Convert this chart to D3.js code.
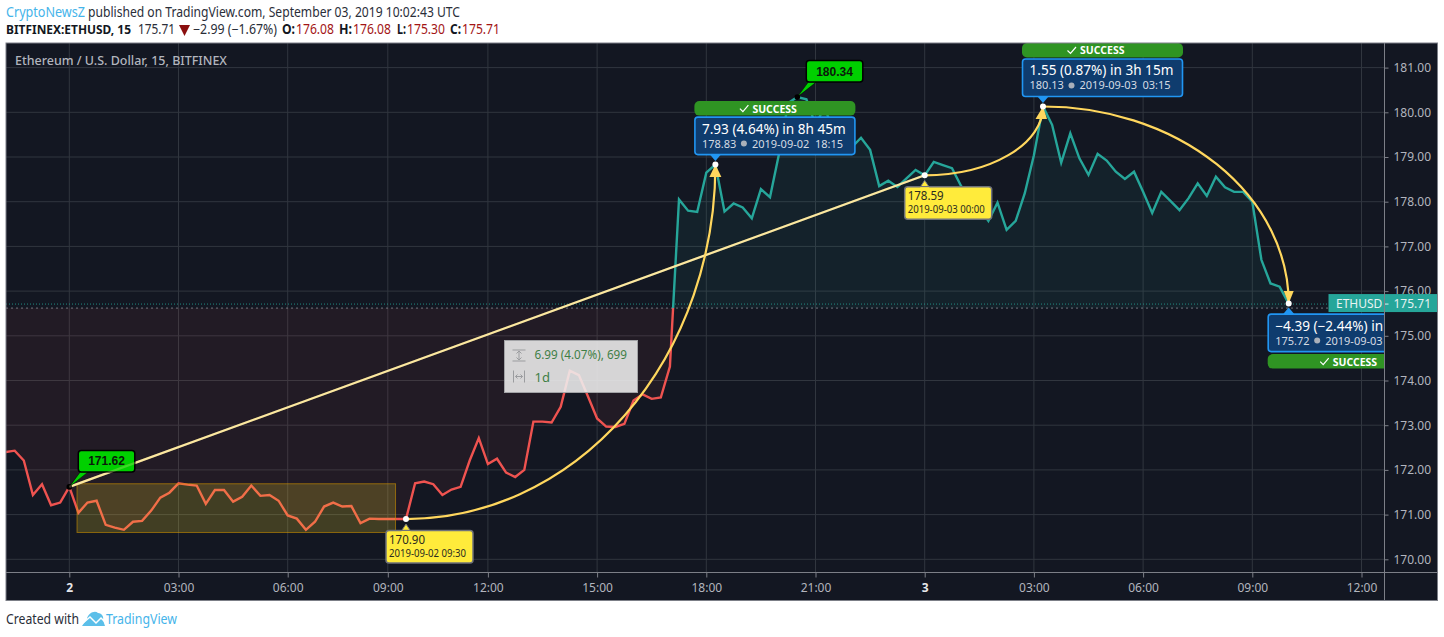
<!DOCTYPE html>
<html>
<head>
<meta charset="utf-8">
<script src="https://cdn.jsdelivr.net/npm/d3@7"></script>
<style>
html, body { margin: 0; padding: 0; background: #fff; overflow: hidden; }
svg { display: block; }
text { font-family: "Noto Sans", sans-serif; }
</style>
</head>
<body>
<script>
// 15 minute closes, first one is bar -7 (bar 0 = 2 Sep 00:00)
var firstBar = -7;
var prices = [
    172.40, 172.43, 172.21, 171.44, 171.68, 171.21, 171.27,
    171.62, 171.04, 171.27, 171.31, 170.77, 170.71, 170.66, 170.84, 170.86, 171.09, 171.38, 171.49,
    171.70, 171.67, 171.65, 171.24, 171.55, 171.55, 171.29, 171.40, 171.65, 171.42, 171.44, 171.31,
    170.98, 170.91, 170.66, 170.84, 171.18, 171.27, 171.18, 171.19, 170.81, 170.91, 170.90,
    170.90, 170.90, 170.90, 171.70, 171.74, 171.68, 171.44, 171.56, 171.62, 172.21, 172.71, 172.13,
    172.25, 171.94, 171.84, 172.00, 173.08, 173.08, 173.06, 173.41, 174.22, 174.12, 173.64, 173.15,
    172.97, 172.96, 173.03, 173.55, 173.69, 173.59, 173.62, 174.31, 178.05, 177.80, 177.77, 178.65,
    178.83, 177.78, 177.96, 177.87, 177.63, 178.28, 178.10, 179.08, 180.21, 180.34, 180.29, 179.72,
    180.12, 179.54, 179.16, 179.22, 179.43, 179.16, 178.35, 178.47, 178.33, 178.52, 178.71, 178.59,
    178.89, 178.82, 178.75, 178.35, 178.13, 177.86, 177.57, 177.98, 177.37, 177.57, 178.19, 179.04,
    180.13, 179.72, 178.87, 179.53, 178.97, 178.60, 179.07, 178.92, 178.67, 178.51, 178.67, 178.22,
    177.75, 178.22, 178.02, 177.81, 178.08, 178.41, 178.13, 178.56, 178.32, 178.22, 178.22, 178.00,
    176.70, 176.17, 176.10, 175.72
];
var tickBars = [0, 12, 24, 35, 46, 58, 70, 82, 94, 106, 118, 130, 142];
var tickLabels = ["2", "03:00", "06:00", "09:00", "12:00", "15:00", "18:00", "21:00", "3", "03:00", "06:00", "09:00", "12:00"];
var priceTicks = [170, 171, 172, 173, 174, 175, 176, 177, 178, 179, 180, 181];
var lastPrice = 175.71;
var baseLevel = 175.62;

// shaded box on the first consolidation
var boxBars = [0.85, 35.85];
var boxPrices = [171.69, 170.60];

// yellow trend line and arcs
var trendFrom = [0, 171.62];
var trendTo = [94, 178.59];
var arcFromBars = [37, 94, 107];
var arcFromPrices = [170.90, 178.59, 180.13];
var arcToBars = [71, 107, 134];
var arcToPrices = [178.83, 180.13, 175.72];
var arrowLeft = [6, 7.5, 5];
var arrowRight = [6, 4, 5];
var dotBars = [37, 71, 94, 107, 134];
var dotPrices = [170.90, 178.83, 178.59, 180.13, 175.72];

var greenBars = [0, 80];
var greenPrices = [171.62, 180.34];

var yellowBars = [37, 94];
var yellowPrices = [170.90, 178.59];
var yellowDates = ["2019-09-02 09:30", "2019-09-03 00:00"];

var forecastBars = [71, 107, 134];
var forecastPrices = [178.83, 180.13, 175.72];
var forecastMoves = ["7.93 (4.64%) in 8h 45m", "1.55 (0.87%) in 3h 15m", "\u22124.39 (\u22122.44%) in"];
var forecastPriceText = ["178.83", "180.13", "175.72"];
var forecastDates = ["2019-09-02", "2019-09-03", "2019-09-03"];
var forecastTimes = ["18:15", "03:15", ""];
var forecastBelow = [false, false, true];
var successShift = [-7, -7, 0];

var width = 1444, height = 637;
var pane = { left: 6, top: 43, right: 1384.5, bottom: 572.5, outerRight: 1437.5, outerBottom: 600.5 };

var colors = {
    bg: "#131722", grid: "#31363f", border: "#7c7f87", axisText: "#b2b5be",
    up: "#26a69a", down: "#ef5350", trend: "#fde9a0", arc: "#ffd75e", green: "#00d000",
    yellow: "#ffeb3b", blueFill: "#0f3c6e", blueLine: "#2196f3", success: "#2f9423"
};

var x = d3.scaleLinear().domain([0, 142]).range([69.3, 1361.5]);
var y = d3.scaleLinear().domain([170, 181]).range([559.3, 67.6]);

var svg = d3.select("body").append("svg").attr("width", width).attr("height", height);
var defs = svg.append("defs");

function clipRect(id, x0, y0, x1, y1) {
    defs.append("clipPath").attr("id", id).append("rect")
        .attr("x", x0).attr("y", y0).attr("width", x1 - x0).attr("height", y1 - y0);
}
clipRect("paneClip", pane.left, pane.top, pane.right, pane.bottom);
clipRect("aboveClip", pane.left, pane.top, pane.right, y(baseLevel));
clipRect("belowClip", pane.left, y(baseLevel), pane.right, pane.bottom);

// squeeze a text into the width it has in the picture
function fit(sel, w) {
    return sel.attr("textLength", w).attr("lengthAdjust", "spacingAndGlyphs");
}

// header
fit(svg.append("text").attr("x", 6).attr("y", 17).attr("font-size", 13.5).attr("fill", "#45b4ea").text("CryptoNewsZ"), 79);
fit(svg.append("text").attr("x", 88).attr("y", 17).attr("font-size", 13.5).attr("fill", "#2a2e39")
    .text("published on TradingView.com, September 03, 2019 10:02:43 UTC"), 372);

var headRed = "#a31515";
var headBits = [
    [6, "BITFINEX:ETHUSD, 15", "#131722", 700, 125, 12],
    [138, "175.71", "#2a2e39", 400, 37, 13.5],
    [193, "\u22122.99 (\u22121.67%)", "#2a2e39", 400, 84, 13.5],
    [282, "O:", "#131722", 700, 13, 13.5],
    [296, "176.08", headRed, 400, 38, 13.5],
    [339, "H:", "#131722", 700, 13, 13.5],
    [353, "176.08", headRed, 400, 38, 13.5],
    [397, "L:", "#131722", 700, 9, 13.5],
    [407, "175.30", headRed, 400, 38, 13.5],
    [450, "C:", "#131722", 700, 11, 13.5],
    [462, "175.71", headRed, 400, 38, 13.5]
];
svg.selectAll(".head2").data(headBits).enter().append("text")
    .attr("class", "head2")
    .attr("x", function(d) { return d[0]; })
    .attr("y", 34)
    .attr("font-size", function(d) { return d[5]; })
    .attr("fill", function(d) { return d[2]; })
    .attr("font-weight", function(d) { return d[3]; })
    .attr("textLength", function(d) { return d[4]; })
    .attr("lengthAdjust", "spacingAndGlyphs")
    .text(function(d) { return d[1]; });
svg.append("path").attr("d", "M179 25H190L184.5 36Z").attr("fill", "#8b0f0f");

// pane background
svg.append("rect")
    .attr("x", pane.left).attr("y", pane.top)
    .attr("width", pane.outerRight - pane.left).attr("height", pane.outerBottom - pane.top)
    .attr("fill", colors.bg);

// grid
var grid = svg.append("g").attr("clip-path", "url(#paneClip)");
grid.selectAll(".vgrid").data(tickBars).enter().append("line")
    .attr("x1", function(d) { return x(d); }).attr("x2", function(d) { return x(d); })
    .attr("y1", pane.top).attr("y2", pane.bottom)
    .attr("stroke", colors.grid);
grid.selectAll(".hgrid").data(priceTicks).enter().append("line")
    .attr("y1", function(d) { return y(d); }).attr("y2", function(d) { return y(d); })
    .attr("x1", pane.left).attr("x2", pane.right)
    .attr("stroke", colors.grid);

// baseline area and line
var series = prices.map(function(p, k) { return [k + firstBar, p]; });
var area = d3.area()
    .x(function(d) { return x(d[0]); })
    .y0(y(baseLevel))
    .y1(function(d) { return y(d[1]); });
var line = d3.line()
    .x(function(d) { return x(d[0]); })
    .y(function(d) { return y(d[1]); });

function baselinePart(clipId, color, opacity) {
    var g = svg.append("g").attr("clip-path", "url(#" + clipId + ")");
    g.append("path").attr("d", area(series)).attr("fill", color).attr("fill-opacity", opacity);
    g.append("path").attr("d", line(series)).attr("fill", "none").attr("stroke", color).attr("stroke-width", 2.4);
}
baselinePart("aboveClip", colors.up, 0.08);
baselinePart("belowClip", colors.down, 0.07);

// everything drawn on the price goes in here
var plot = svg.append("g").attr("clip-path", "url(#paneClip)");

// level lines
plot.append("line")
    .attr("x1", pane.left).attr("x2", pane.right)
    .attr("y1", y(lastPrice)).attr("y2", y(lastPrice))
    .attr("stroke", colors.up).attr("stroke-opacity", 0.8).attr("stroke-dasharray", "1,2");
plot.append("line")
    .attr("x1", pane.left).attr("x2", pane.right)
    .attr("y1", y(baseLevel)).attr("y2", y(baseLevel))
    .attr("stroke", "#8a8d96").attr("stroke-opacity", 0.8).attr("stroke-dasharray", "2,3");

// shaded box
plot.append("rect")
    .attr("x", x(boxBars[0])).attr("y", y(boxPrices[0]))
    .attr("width", x(boxBars[1]) - x(boxBars[0])).attr("height", y(boxPrices[1]) - y(boxPrices[0]))
    .attr("fill", "rgba(250,220,40,0.2)")
    .attr("stroke", "rgba(205,145,0,0.6)");

// trend line and arcs
function trendLine(opacity) {
    plot.append("line")
        .attr("x1", x(trendFrom[0])).attr("y1", y(trendFrom[1]))
        .attr("x2", x(trendTo[0])).attr("y2", y(trendTo[1]))
        .attr("stroke", colors.trend).attr("stroke-width", 2.2).attr("stroke-opacity", opacity);
}
trendLine(1);

arcFromBars.forEach(function(b, i) {
    var x0 = x(b), y0 = y(arcFromPrices[i]);
    var x1 = x(arcToBars[i]), y1 = y(arcToPrices[i]);
    var rx = Math.abs(x1 - x0), ry = Math.abs(y1 - y0);
    var sweep = y1 < y0 ? 0 : 1;
    plot.append("path")
        .attr("d", "M" + x0 + " " + y0 + "A" + rx + " " + ry + " 0 0 " + sweep + " " + x1 + " " + y1)
        .attr("fill", "none").attr("stroke", colors.arc).attr("stroke-width", 2.2);
    // arrow head
    var dir = y1 < y0 ? 1 : -1;
    plot.append("path")
        .attr("d", "M" + x1 + " " + y1 + "L" + (x1 - arrowLeft[i]) + " " + (y1 + dir * 12.5) + "L" + (x1 + arrowRight[i]) + " " + (y1 + dir * 12.5) + "Z")
        .attr("fill", colors.arc);
});

// green price labels
function greenLabel(bar, price) {
    var px = x(bar), py = y(price);
    var bx = px + 9, by = py - 36.5, bw = 56.5, bh = 21.5;
    plot.append("path")
        .attr("d", "M" + px + " " + py + "L" + (bx + 2) + " " + (by + bh) + "L" + (bx + 10) + " " + (by + bh) + "Z")
        .attr("fill", colors.green).attr("stroke", "#000").attr("stroke-width", 0.5);
    plot.append("rect")
        .attr("x", bx).attr("y", by).attr("width", bw).attr("height", bh).attr("rx", 3)
        .attr("fill", colors.green).attr("stroke", "#000").attr("stroke-width", 1.5);
    plot.append("text")
        .attr("x", bx + bw / 2).attr("y", by + 15)
        .attr("text-anchor", "middle")
        .style("font-family", "'Liberation Sans', sans-serif")
        .attr("font-size", 12).attr("font-weight", 700).attr("fill", "#0b1a0b")
        .text(price.toFixed(2));
    plot.append("circle").attr("cx", px).attr("cy", py).attr("r", 2.8).attr("fill", "#000");
}
greenBars.forEach(function(b, i) { greenLabel(b, greenPrices[i]); });
trendLine(0.25);

// yellow price labels
yellowBars.forEach(function(b, i) {
    var px = x(b), py = y(yellowPrices[i]);
    var bx = px - 20, by = py + 11.5;
    plot.append("path")
        .attr("d", "M" + (px - 5) + " " + (by + 1) + "L" + px + " " + (py + 5) + "L" + (px + 5) + " " + (by + 1) + "Z")
        .attr("fill", colors.yellow).attr("stroke", "#6f727a");
    plot.append("rect")
        .attr("x", bx).attr("y", by).attr("width", 87).attr("height", 32.5).attr("rx", 3)
        .attr("fill", colors.yellow).attr("stroke", "#6f727a").attr("stroke-width", 1.5);
    plot.append("path")
        .attr("d", "M" + (px - 4.5) + " " + (by + 1.5) + "L" + (px + 4.5) + " " + (by + 1.5))
        .attr("stroke", colors.yellow).attr("stroke-width", 2);
    fit(plot.append("text").attr("x", bx + 3).attr("y", by + 13.5)
        .attr("font-size", 12.5).attr("fill", "#2b2b20").text(yellowPrices[i].toFixed(2)), 36);
    fit(plot.append("text").attr("x", bx + 3).attr("y", by + 26)
        .attr("font-size", 10).attr("fill", "#2b2b20").text(yellowDates[i]), 77);
});

// forecast labels
forecastBars.forEach(function(b, i) {
    var px = x(b), py = y(forecastPrices[i]);
    var below = forecastBelow[i];
    var bx = px - 20.5, bw = 160, bh = 37.5;
    var by = below ? py + 10.5 : py - 47.5;
    var tipY = below ? py + 4 : py - 3.5;
    var edge = below ? by : by + bh;
    plot.append("path")
        .attr("d", "M" + (px - 5.5) + " " + edge + "L" + px + " " + tipY + "L" + (px + 5.5) + " " + edge + "Z")
        .attr("fill", colors.blueLine);
    plot.append("rect")
        .attr("x", bx).attr("y", by).attr("width", bw).attr("height", bh).attr("rx", 3)
        .attr("fill", colors.blueFill).attr("stroke", colors.blueLine).attr("stroke-width", 1.6);
    plot.append("text").attr("x", bx + 7).attr("y", by + 16.5)
        .attr("font-size", 13.6).attr("fill", "#fff").text(forecastMoves[i]);
    plot.append("text").attr("x", bx + 7).attr("y", by + 30.5)
        .attr("font-size", 11).attr("fill", "#d5dbe3").text(forecastPriceText[i]);
    plot.append("circle").attr("cx", bx + 49).attr("cy", by + 26.5).attr("r", 3).attr("fill", "#a9b0ba");
    plot.append("text").attr("x", bx + 57).attr("y", by + 30.5)
        .attr("font-size", 11).attr("fill", "#d5dbe3").text(forecastDates[i]);
    if (forecastTimes[i]) {
        plot.append("text").attr("x", bx + 120).attr("y", by + 30.5)
            .attr("font-size", 11).attr("fill", "#d5dbe3").text(forecastTimes[i]);
    }

    var sy = below ? by + bh + 2.5 : by - 16;
    var cx = bx + bw / 2 + successShift[i];
    plot.append("rect")
        .attr("x", bx - 0.5).attr("y", sy).attr("width", bw + 1).attr("height", 14.5).attr("rx", 5)
        .attr("fill", colors.success);
    plot.append("path")
        .attr("d", "M" + (cx - 28) + " " + (sy + 7.5) + "l3 3l5.5 -6.5")
        .attr("fill", "none").attr("stroke", "#fff").attr("stroke-width", 1.2);
    plot.append("text").attr("x", cx - 15.5).attr("y", sy + 11.5)
        .attr("font-size", 10.5).attr("font-weight", 700).attr("fill", "#fff")
        .text("SUCCESS");
});

// white anchors
plot.selectAll(".anchor").data(dotBars).enter().append("circle")
    .attr("cx", function(d) { return x(d); })
    .attr("cy", function(d, i) { return y(dotPrices[i]); })
    .attr("r", 3)
    .attr("fill", "#fff");

// measure tooltip
var tip = svg.append("g").attr("transform", "translate(504.5,340.5)");
tip.append("rect").attr("width", 133).attr("height", 52)
    .attr("fill", "#efefef").attr("fill-opacity", 0.88).attr("stroke", "#a2a3a6");
fit(tip.append("text").attr("x", 30).attr("y", 18).attr("font-size", 13).attr("fill", "#3f7f46").text("6.99 (4.07%), 699"), 92.5);
tip.append("text").attr("x", 30).attr("y", 41).attr("font-size", 13).attr("fill", "#3f7f46").text("1d");
tip.append("path")
    .attr("d", "M8 9.5H21M8 20.5H21M14.5 11V19M12 13L14.5 10.5L17 13M12 17L14.5 19.5L17 17")
    .attr("fill", "none").attr("stroke", "#9b9c9f");
tip.append("path")
    .attr("d", "M9 30V42M20 30V42M11 36H18M13 34L11 36L13 38M16 34L18 36L16 38")
    .attr("fill", "none").attr("stroke", "#9b9c9f");

// chart title
fit(svg.append("text").attr("x", 15).attr("y", 65)
    .attr("font-size", 12.5).attr("font-weight", 500).attr("fill", "#b2b5be")
    .text("Ethereum / U.S. Dollar, 15, BITFINEX"), 212);

// axes
var xAxis = d3.axisBottom(x)
    .tickValues(tickBars)
    .tickSize(5)
    .tickPadding(6)
    .tickFormat(function(d, i) { return tickLabels[i]; });
var gx = svg.append("g").attr("transform", "translate(0," + pane.bottom + ")").call(xAxis);
gx.select(".domain").remove();
gx.selectAll("line").attr("stroke", colors.border);
gx.selectAll("text")
    .style("font-family", "'Noto Sans', sans-serif")
    .attr("font-size", 12)
    .attr("fill", function(d, i) { return tickLabels[i].length === 1 ? "#e6e7ea" : colors.axisText; })
    .attr("font-weight", function(d, i) { return tickLabels[i].length === 1 ? 700 : 400; });

var yAxis = d3.axisRight(y)
    .tickValues(priceTicks)
    .tickSize(4)
    .tickPadding(5)
    .tickFormat(d3.format(".2f"));
var gy = svg.append("g").attr("transform", "translate(" + pane.right + ",0)").call(yAxis);
gy.select(".domain").remove();
gy.selectAll("line").attr("stroke", colors.border);
gy.selectAll("text")
    .style("font-family", "'Noto Sans', sans-serif")
    .attr("font-size", 12)
    .attr("fill", colors.axisText);

// last price tag
var tagY = y(lastPrice);
svg.append("rect")
    .attr("x", 1328.5).attr("y", tagY - 10).attr("width", pane.outerRight - 1328.5).attr("height", 18)
    .attr("fill", colors.up);
svg.append("text").attr("x", 1336).attr("y", tagY + 3.5)
    .attr("font-size", 12).attr("fill", "#e8f3f2").text("ETHUSD");
svg.append("line").attr("x1", pane.right).attr("x2", pane.right + 4).attr("y1", tagY).attr("y2", tagY).attr("stroke", "#e8f3f2");
svg.append("text").attr("x", 1393.5).attr("y", tagY + 3.5)
    .attr("font-size", 12).attr("fill", "#e8f3f2").text(lastPrice.toFixed(2));

// frame on top of everything
svg.append("rect")
    .attr("x", pane.left).attr("y", pane.top)
    .attr("width", pane.outerRight - pane.left).attr("height", pane.outerBottom - pane.top)
    .attr("fill", "none").attr("stroke", colors.border);
svg.append("line").attr("x1", pane.right).attr("x2", pane.right).attr("y1", pane.top).attr("y2", pane.outerBottom).attr("stroke", colors.border);
svg.append("line").attr("x1", pane.left).attr("x2", pane.outerRight).attr("y1", pane.bottom).attr("y2", pane.bottom).attr("stroke", colors.border);

// footer
fit(svg.append("text").attr("x", 6).attr("y", 624).attr("font-size", 13.5).attr("fill", "#2a2e39").text("Created with"), 73);
svg.append("path")
    .attr("d", "M82 626L87 619C88 613 95 610 98 613C102 613 104 617 103 620L105 626Z")
    .attr("fill", "#5cbfe9");
svg.append("path")
    .attr("d", "M83 623L90 617L96 623L101 618L105 622")
    .attr("fill", "none").attr("stroke", "#fff").attr("stroke-width", 1.5);
fit(svg.append("text").attr("x", 106).attr("y", 624).attr("font-size", 13.5).attr("fill", "#45b4ea").text("TradingView"), 71);
</script>
</body>
</html>
